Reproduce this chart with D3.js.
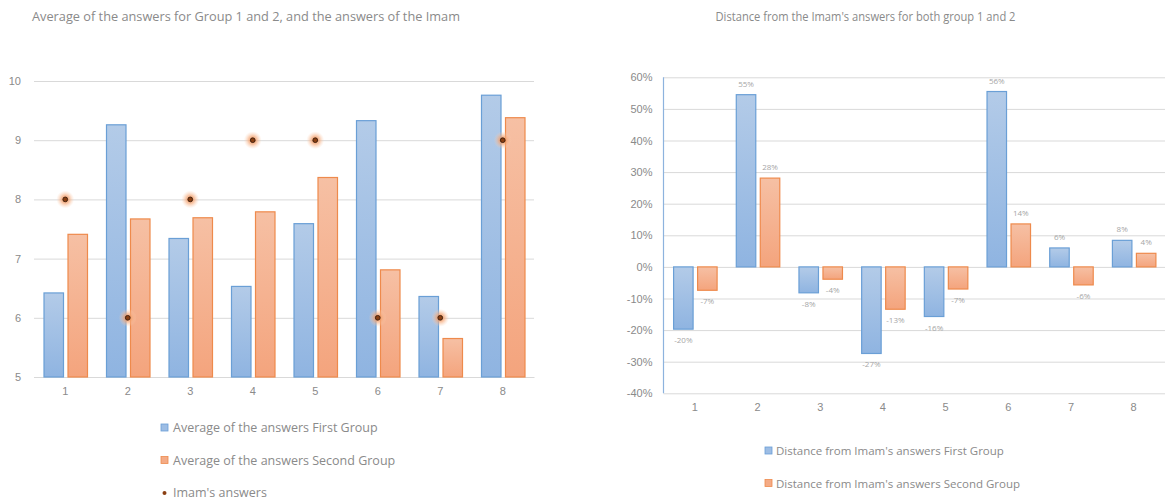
<!DOCTYPE html>
<html>
<head>
<meta charset="utf-8">
<script src="https://cdn.jsdelivr.net/npm/d3@7"></script>
<style>
  html, body { margin: 0; padding: 0; background: #fff; }
  svg { display: block; font-family: "Open Sans", "Noto Sans", sans-serif; }
</style>
</head>
<body>
<svg id="chart" width="1165" height="502"></svg>
<script>
// Questions 1..8
const questions = ["1", "2", "3", "4", "5", "6", "7", "8"];

// Left chart: averages per group and the Imam's answers
const avgFirstGroup  = [6.42, 9.26, 7.34, 6.53, 7.59, 9.33, 6.36, 9.76];
const avgSecondGroup = [7.41, 7.67, 7.69, 7.79, 8.37, 6.81, 5.65, 9.38];
const imamAnswers    = [8, 6, 8, 9, 9, 6, 6, 9];
const avgTicks = [5, 6, 7, 8, 9, 10];

// Right chart: relative distance from the Imam's answers
const distFirstGroup  = [-0.197, 0.545, -0.082, -0.274, -0.157, 0.555, 0.06, 0.084];
const distSecondGroup = [-0.074, 0.281, -0.039, -0.134, -0.07, 0.136, -0.057, 0.043];
const distTicks = [-0.4, -0.3, -0.2, -0.1, 0, 0.1, 0.2, 0.3, 0.4, 0.5, 0.6];

const titles = {
  left: "Average of the answers for Group 1 and 2, and the answers of the Imam",
  right: "Distance from the Imam's answers for both group 1 and 2"
};
const legendLeft = [
  "Average of the answers First Group",
  "Average of the answers Second Group",
  "Imam's answers"
];
const legendRight = [
  "Distance from Imam's answers First Group",
  "Distance from Imam's answers Second Group"
];

const C = {
  text: "#8a8a8a",
  grid: "#d9d9d9",
  blueStroke: "#6a9fd6",
  orangeStroke: "#ee8a4c",
  label: "#a6a6a6"
};

const svg = d3.select("#chart");
const defs = svg.append("defs");

function vGrad(id, top, bottom) {
  const g = defs.append("linearGradient").attr("id", id)
    .attr("x1", 0).attr("y1", 0).attr("x2", 0).attr("y2", 1);
  g.append("stop").attr("offset", "0%").attr("stop-color", top);
  g.append("stop").attr("offset", "100%").attr("stop-color", bottom);
}
vGrad("gBlue", "#b3cbe8", "#8fb4e1");
vGrad("gOrange", "#f6c0a4", "#f4a47d");

const glow = defs.append("radialGradient").attr("id", "gGlow");
glow.append("stop").attr("offset", "0%").attr("stop-color", "#f08a4b").attr("stop-opacity", 0.9);
glow.append("stop").attr("offset", "45%").attr("stop-color", "#f5a878").attr("stop-opacity", 0.7);
glow.append("stop").attr("offset", "100%").attr("stop-color", "#fbd3b8").attr("stop-opacity", 0);

const barW = 19.5, barGap = 3.5;

// ---------- Left chart ----------
{
  const x = d3.scaleBand().domain(questions).range([34, 534]);
  const y = d3.scaleLinear().domain([5, 10]).range([377, 81]);
  const g = svg.append("g");

  g.append("text").attr("x", 246).attr("y", 21).attr("text-anchor", "middle")
    .attr("font-size", 12.75).attr("fill", C.text).text(titles.left);

  const yAxis = g.append("g").attr("transform", "translate(34,0)")
    .call(d3.axisLeft(y).tickValues(avgTicks).tickSize(-500).tickPadding(13).tickFormat(d3.format("d")));
  yAxis.select(".domain").remove();
  yAxis.selectAll("line").attr("stroke", C.grid);
  yAxis.selectAll("text").attr("fill", C.text).attr("font-size", 11);

  const xAxis = g.append("g").attr("transform", "translate(0,377)")
    .call(d3.axisBottom(x).tickSize(0).tickPadding(10));
  xAxis.select(".domain").attr("stroke", C.grid);
  xAxis.selectAll("text").attr("fill", C.text).attr("font-size", 11);

  const cx = q => x(q) + x.bandwidth() / 2;

  g.selectAll(".b1").data(avgFirstGroup).join("rect")
    .attr("x", (d, i) => cx(questions[i]) - barGap / 2 - barW)
    .attr("y", d => y(d)).attr("width", barW).attr("height", d => y(5) - y(d))
    .attr("fill", "url(#gBlue)").attr("stroke", C.blueStroke).attr("stroke-width", 1.2);

  g.selectAll(".b2").data(avgSecondGroup).join("rect")
    .attr("x", (d, i) => cx(questions[i]) + barGap / 2 + 1)
    .attr("y", d => y(d)).attr("width", barW).attr("height", d => y(5) - y(d))
    .attr("fill", "url(#gOrange)").attr("stroke", C.orangeStroke).attr("stroke-width", 1.2);

  const dots = g.selectAll(".imam").data(imamAnswers).join("g")
    .attr("transform", (d, i) => `translate(${cx(questions[i])},${y(d)})`);
  dots.append("circle").attr("r", 9).attr("fill", "url(#gGlow)");
  dots.append("circle").attr("r", 2.4).attr("fill", "#8a3f12").attr("stroke", "#2e1406").attr("stroke-width", 0.8);

  // legend
  const lg = g.append("g");
  legendLeft.forEach((t, i) => {
    const yy = 428 + i * 32.5;
    if (i < 2) {
      lg.append("rect").attr("x", 161).attr("y", yy - 4).attr("width", 7).attr("height", 7)
        .attr("fill", i === 0 ? "#9dbde4" : "#f4ab86")
        .attr("stroke", i === 0 ? C.blueStroke : C.orangeStroke).attr("stroke-width", 0.8);
    } else {
      lg.append("circle").attr("cx", 164.5).attr("cy", yy).attr("r", 2)
        .attr("fill", "#8a3f12");
    }
    lg.append("text").attr("x", 173).attr("y", yy + 4).attr("font-size", 12.5)
      .attr("fill", C.text).text(t);
  });
}

// ---------- Right chart ----------
{
  const x = d3.scaleBand().domain(questions).range([663.5, 1165]);
  const y = d3.scaleLinear().domain([-0.4, 0.6]).range([393.3, 77.3]);
  const pct = d => Math.round(d * 100) + "%";
  const g = svg.append("g");

  g.append("text").attr("x", 865.5).attr("y", 21).attr("text-anchor", "middle")
    .attr("font-size", 12.5).attr("textLength", 300).attr("lengthAdjust", "spacingAndGlyphs")
    .attr("fill", C.text).text(titles.right);

  const yAxis = g.append("g").attr("transform", "translate(663.5,0)")
    .call(d3.axisLeft(y).tickValues(distTicks).tickSize(-502).tickPadding(11).tickFormat(pct));
  yAxis.select(".domain").remove();
  yAxis.selectAll("line").attr("stroke", C.grid);
  yAxis.selectAll("text").attr("fill", C.text).attr("font-size", 11);

  g.append("line").attr("x1", 663.5).attr("x2", 663.5).attr("y1", y(0.6)).attr("y2", y(-0.4))
    .attr("stroke", "#8db3de").attr("stroke-width", 1.2);

  const xAxis = g.append("g").attr("transform", `translate(0,${y(-0.4)})`)
    .call(d3.axisBottom(x).tickSize(0).tickPadding(10));
  xAxis.select(".domain").remove();
  xAxis.selectAll("text").attr("fill", C.text).attr("font-size", 11);

  const cx = q => x(q) + x.bandwidth() / 2;

  const series = [
    { values: distFirstGroup, fill: "url(#gBlue)", stroke: C.blueStroke, off: -barGap / 2 - barW },
    { values: distSecondGroup, fill: "url(#gOrange)", stroke: C.orangeStroke, off: barGap / 2 + 1 }
  ];
  series.forEach(s => {
    g.append("g").selectAll("rect").data(s.values).join("rect")
      .attr("x", (d, i) => cx(questions[i]) + s.off)
      .attr("y", d => Math.min(y(d), y(0))).attr("width", barW)
      .attr("height", d => Math.abs(y(d) - y(0)))
      .attr("fill", s.fill).attr("stroke", s.stroke).attr("stroke-width", 1.2);
    g.append("g").selectAll("text").data(s.values).join("text")
      .attr("x", (d, i) => cx(questions[i]) + s.off + barW / 2)
      .attr("y", d => d >= 0 ? y(d) - 8 : y(d) + 14)
      .attr("text-anchor", "middle").attr("font-size", 8).attr("fill", C.label)
      .text(pct);
  });

  const lg = g.append("g");
  legendRight.forEach((t, i) => {
    const yy = 451 + i * 32.5;
    lg.append("rect").attr("x", 765).attr("y", yy - 4).attr("width", 7).attr("height", 7)
      .attr("fill", i === 0 ? "#9dbde4" : "#f4ab86")
      .attr("stroke", i === 0 ? C.blueStroke : C.orangeStroke).attr("stroke-width", 0.8);
    lg.append("text").attr("x", 776).attr("y", yy + 4).attr("font-size", 11.5)
      .attr("fill", C.text).text(t);
  });
}
</script>
</body>
</html>
